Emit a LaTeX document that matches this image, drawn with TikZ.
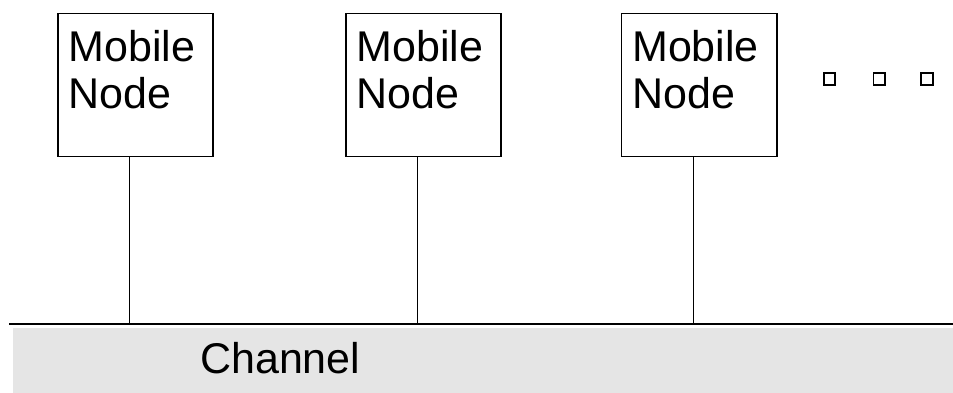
\documentclass[tikz,border=0pt]{standalone}
\usepackage{fontspec}
\setmainfont{Liberation Sans}
\begin{document}
\begin{tikzpicture}[x=1pt,y=1pt,
  mbox/.style={draw=black, line width=1.6pt, minimum width=155.2pt, minimum height=143pt, inner sep=0pt, fill=white},
  mtext/.style={anchor=north west, inner sep=0pt, align=left, font={\fontsize{43}{47}\selectfont}},
  link/.style={draw=black, line width=1pt},
  dotbox/.style={draw=black, line width=1.6pt, minimum width=11.5pt, minimum height=11.5pt, inner sep=0pt},
  chanfill/.style={fill=black!10, draw=none, inner sep=0pt}
]
\useasboundingbox (0,0) rectangle (953,-393);
% channel
\node[chanfill, minimum width=940.7pt, minimum height=64.6pt, anchor=north west] (chan) at (12.3,-327.7) {};
\coordinate (cl0) at (9.3,-324.3);
\coordinate (cl1) at (953,-324.3);
\draw[line width=1.8pt] (cl0) -- (cl1);
\node[anchor=base west, inner sep=0pt, font={\fontsize{43}{47}\selectfont}] (chantext) at (200,-373.3) {Channel};
% mobile nodes
\node[mbox] (n1) at (135.4,-85) {};
\node[mbox] (n2) at (423.5,-85) {};
\node[mbox] (n3) at (699.2,-85) {};
\node[mtext] (t1) at (68.5,-30) {Mobile\\Node};
\node[mtext] (t2) at (356.5,-30) {Mobile\\Node};
\node[mtext] (t3) at (632,-30) {Mobile\\Node};
% connectors
\foreach \n in {n1,n2,n3}{
  \draw[link] ([xshift=-6pt]\n.south) -- ([xshift=-6pt]\n.south |- cl0);
}
% ellipsis squares
\node[dotbox] (d1) at (829.5,-79) {};
\node[dotbox] (d2) at (879.3,-79) {};
\node[dotbox] (d3) at (927,-79) {};
\end{tikzpicture}
\end{document}
